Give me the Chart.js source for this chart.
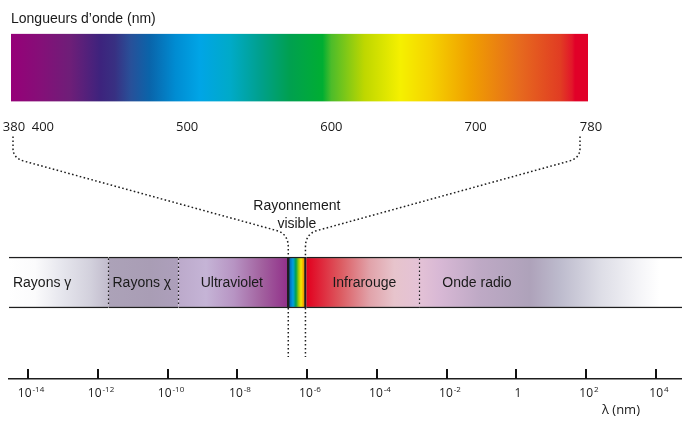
<!DOCTYPE html>
<html lang="fr">
<head>
<meta charset="utf-8">
<title>Spectre électromagnétique</title>
<script src="https://cdn.jsdelivr.net/npm/chart.js@4.4.1/dist/chart.umd.min.js"></script>
<style>
  html, body { margin: 0; padding: 0; background: #fff; }
  #wrap { position: relative; width: 682px; height: 423px; }
  #wrap > div { position: absolute; left: 0; top: 0; width: 682px; }
  #bandBox { height: 423px; }
  #visBox { height: 159px; }
</style>
</head>
<body>
<div id="wrap">
  <div id="bandBox"><canvas id="bandChart"></canvas></div>
  <div id="visBox"><canvas id="visChart"></canvas></div>
</div>
<script>
// visible part, in nm
const visibleRange = [380, 780];
const visibleTicks = [380, 400, 500, 600, 700, 780];

// bands on the lower axis, in powers of ten
const bandNames   = ['Rayons γ', 'Rayons χ', 'Ultraviolet', '', 'Infrarouge', 'Onde radio'];
const bandStart   = [-14.55, -11.7, -9.69, -6.57, -6.02, -2.79];
const bandEnd     = [-11.7, -9.69, -6.57, -6.02, -2.79, 4.75];
const bandLabelAt = [-13.6, -10.74, -8.16, null, -4.36, -1.13];
const visibleIndex = 3;
const powerTicks = [-14, -12, -10, -8, -6, -4, -2, 0, 2, 4];

const INK = '#1e1e1e';
const TEXT_FONT = '"Liberation Sans", Arial, sans-serif';
const NUM_FONT = '"Open Sans", sans-serif';

// colour stops
const spectrumColors = [
  [380, '#960078'], [400, '#850f78'], [421, '#6e1e78'], [442, '#3d237d'], [452, '#383082'],
  [463, '#285099'], [476, '#0a64aa'], [494, '#008cd2'], [511, '#00a5e6'], [532, '#00aac8'],
  [553, '#00a08c'], [573, '#00a050'], [596, '#00ae32'], [602, '#4cbc2a'], [625, '#bed700'],
  [650, '#f5f000'], [671, '#f5d200'], [698, '#f0a000'], [733, '#e6691e'], [761, '#e13c23'],
  [769, '#e2162a'], [771, '#e10028'], [780, '#e10028']
];
const bandColors = [
  [-14.55, '#ffffff'], [-13.8, '#fbfbfc'], [-13.07, '#e7e7ee'], [-12.2, '#d2d0dc'], [-11.72, '#c2bccd'],
  [-11.7, '#aca2b8'], [-10.5, '#a99db5'], [-9.71, '#ad9fbb'], [-9.69, '#bcaacb'], [-8.9, '#c5b4d6'],
  [-8.1, '#b794c3'], [-7.3, '#a2619f'], [-6.57, '#92318a'],
  [-6.02, '#e2001e'], [-5.05, '#dc5a60'], [-4.2, '#e1a3aa'], [-3.5, '#e7c4cc'], [-2.8, '#e4c2d6'],
  [-2.2, '#d8b8d5'], [-1.04, '#bea9c5'], [0.39, '#aea2ba'], [1.25, '#bdbbcd'], [2.4, '#dddde6'],
  [3.54, '#f5f5f8'], [4.1, '#ffffff'], [4.75, '#ffffff']
];
const rainbowColors = [
  [0, '#3c2a86'], [0.15, '#0070c0'], [0.3, '#00a0e0'], [0.45, '#00a050'],
  [0.6, '#a8cc00'], [0.72, '#f5e600'], [0.85, '#f0a000'], [1, '#e86000']
];

function gradient(chart, scale, stops, from, to) {
  const x0 = scale.getPixelForValue(from), x1 = scale.getPixelForValue(to);
  const g = chart.ctx.createLinearGradient(x0, 0, x1, 0);
  stops.forEach(([v, c]) => g.addColorStop(Math.min(1, Math.max(0, (v - from) / (to - from))), c));
  return g;
}

// keep the plot edges where the padding puts them, even if end labels overhang
const noOverhang = (s) => { s.paddingLeft = 0; s.paddingRight = 0; };

// top strip: visible wavelengths
const visChart = new Chart(document.getElementById('visChart'), {
  type: 'bar',
  data: {
    labels: ['visible'],
    datasets: [{
      data: [visibleRange],
      backgroundColor: (c) => {
        if (!c.chart.chartArea) return 'transparent';
        return gradient(c.chart, c.chart.scales.x, spectrumColors, visibleRange[0], visibleRange[1]);
      },
      borderWidth: 0,
      barPercentage: 1,
      categoryPercentage: 1
    }]
  },
  options: {
    indexAxis: 'y',
    responsive: true,
    maintainAspectRatio: false,
    animation: false,
    layout: { padding: { left: 11, right: 94, top: 0, bottom: 6 } },
    plugins: {
      legend: { display: false },
      tooltip: { enabled: false },
      title: {
        display: true,
        text: 'Longueurs d’onde (nm)',
        align: 'start',
        color: '#1a1a1a',
        font: { family: TEXT_FONT, size: 14, weight: 'normal' },
        padding: { top: 11, bottom: 6 }
      }
    },
    scales: {
      x: {
        type: 'linear',
        min: visibleRange[0],
        max: visibleRange[1],
        afterBuildTicks: (s) => { s.ticks = visibleTicks.map(v => ({ value: v })); },
        afterFit: noOverhang,
        grid: { display: false, drawTicks: false },
        border: { display: false },
        ticks: {
          padding: 18, labelOffset: 3, color: '#1a1a1a',
          font: { family: NUM_FONT, size: 13 }, maxRotation: 0, autoSkip: false
        }
      },
      y: { display: false }
    }
  }
});

function dotted(ctx) {
  ctx.setLineDash([1.6, 2.4]);
  ctx.lineWidth = 1.5;
  ctx.strokeStyle = INK;
}

const spectrumExtras = {
  id: 'spectrumExtras',
  afterDraw(chart) {
    const { ctx, chartArea } = chart;
    const xs = chart.scales.x;
    const bars = chart.getDatasetMeta(0).data;
    const vis = bars[visibleIndex];
    const top = vis.y - vis.height / 2, bottom = vis.y + vis.height / 2;
    ctx.save();

    // dotted separators inside the band
    dotted(ctx);
    ctx.lineWidth = 1.2;
    for (let i = 1; i < bandStart.length; i++) {
      if (i === visibleIndex || i - 1 === visibleIndex) continue;
      const x = Math.round(xs.getPixelForValue(bandStart[i])) + 0.5;
      ctx.beginPath();
      ctx.moveTo(x, top + 1.5);
      ctx.lineTo(x, bottom - 1.5);
      ctx.stroke();
    }

    // band names
    ctx.setLineDash([]);
    ctx.fillStyle = '#1a1a1a';
    ctx.font = '14px ' + TEXT_FONT;
    ctx.textAlign = 'center';
    ctx.textBaseline = 'middle';
    bandNames.forEach((name, i) => {
      if (name) ctx.fillText(name, xs.getPixelForValue(bandLabelAt[i]), vis.y + 0.5);
    });

    // connectors from the top strip to the visible band
    const vx = visChart.scales.x;
    const ya = visChart.chartArea.bottom + 35;
    const xl = xs.getPixelForValue(bandStart[visibleIndex]) + 1;
    const xr = xs.getPixelForValue(bandEnd[visibleIndex]) - 1;
    const ends = [
      [vx.getPixelForValue(visibleTicks[0]) + 2, xl, 1],
      [vx.getPixelForValue(visibleTicks[visibleTicks.length - 1]) - 8, xr, -1]
    ];
    dotted(ctx);
    ends.forEach(([xa, xb, dir]) => {
      ctx.beginPath();
      ctx.moveTo(xa, ya);
      ctx.lineTo(xa, ya + 12);
      ctx.quadraticCurveTo(xa, ya + 22, xa + 12 * dir, ya + 25);
      ctx.lineTo(xb - 10 * dir, top - 26);
      ctx.quadraticCurveTo(xb, top - 22, xb, top - 10);
      ctx.lineTo(xb, top);
      ctx.stroke();
      ctx.beginPath();
      ctx.moveTo(xb, bottom);
      ctx.lineTo(xb, bottom + 49);
      ctx.stroke();
    });

    ctx.setLineDash([]);
    ctx.fillStyle = '#1a1a1a';
    ctx.font = '14px ' + TEXT_FONT;
    ctx.textAlign = 'center';
    ctx.fillText('Rayonnement', (xl + xr) / 2, top - 51);
    ctx.fillText('visible', (xl + xr) / 2, top - 33);

    // tick marks above the axis line and power-of-ten labels
    const axisY = chartArea.bottom;
    ctx.strokeStyle = '#111';
    ctx.lineWidth = 2;
    ctx.textBaseline = 'alphabetic';
    xs.ticks.forEach(t => {
      const x = Math.round(xs.getPixelForValue(t.value));
      ctx.beginPath();
      ctx.moveTo(x, axisY - 10);
      ctx.lineTo(x, axisY);
      ctx.stroke();

      ctx.fillStyle = '#1a1a1a';
      if (t.value === 0) {
        ctx.font = '12px ' + NUM_FONT;
        ctx.textAlign = 'center';
        ctx.fillText('1', x + 2, axisY + 18);
        return;
      }
      const sup = t.value < 0 ? '-' + Math.abs(t.value) : String(t.value);
      ctx.font = '12px ' + NUM_FONT;
      const wb = ctx.measureText('10').width;
      ctx.font = '8px ' + NUM_FONT;
      const ws = ctx.measureText(sup).width + 1;
      const left = x + 3 - (wb + ws) / 2;
      ctx.textAlign = 'left';
      ctx.font = '12px ' + NUM_FONT;
      ctx.fillText('10', left, axisY + 18);
      ctx.font = '8px ' + NUM_FONT;
      ctx.fillText(sup, left + wb + 1, axisY + 13);
    });

    // unit label between the last two ticks
    const n = powerTicks.length;
    ctx.font = '13px ' + NUM_FONT;
    ctx.textAlign = 'center';
    ctx.textBaseline = 'middle';
    ctx.fillText('λ (nm)',
      (xs.getPixelForValue(powerTicks[n - 2]) + xs.getPixelForValue(powerTicks[n - 1])) / 2, axisY + 31);
    ctx.restore();
  }
};

// lower band: whole spectrum
const bandChart = new Chart(document.getElementById('bandChart'), {
  type: 'bar',
  data: {
    labels: ['spectre'],
    datasets: [{
      data: bandStart.map((s, i) => ({ x: [s, bandEnd[i]], y: 'spectre' })),
      backgroundColor: (c) => {
        const chart = c.chart;
        if (!chart.chartArea) return 'transparent';
        const xs = chart.scales.x;
        if (c.dataIndex === visibleIndex) {
          const a = bandStart[visibleIndex], b = bandEnd[visibleIndex];
          return gradient(chart, xs, rainbowColors.map(([f, col]) => [a + f * (b - a), col]), a, b);
        }
        return gradient(chart, xs, bandColors, xs.min, xs.max);
      },
      borderColor: INK,
      borderWidth: (c) => c.dataIndex === visibleIndex
        ? { top: 1.5, bottom: 1.5, left: 2.5, right: 2.5 }
        : { top: 1.5, bottom: 1.5, left: 0, right: 0 },
      borderSkipped: false,
      barThickness: 51
    }]
  },
  options: {
    indexAxis: 'y',
    responsive: true,
    maintainAspectRatio: false,
    animation: false,
    layout: { padding: { top: 186, left: 9, right: 0, bottom: 44 } },
    plugins: { legend: { display: false }, tooltip: { enabled: false } },
    scales: {
      x: {
        type: 'linear',
        min: bandStart[0],
        max: bandEnd[bandEnd.length - 1],
        afterBuildTicks: (s) => { s.ticks = powerTicks.map(v => ({ value: v })); },
        afterFit: noOverhang,
        grid: { display: false, drawTicks: false },
        border: { display: true, color: INK, width: 1.5 },
        ticks: { display: false }
      },
      y: { display: false }
    }
  },
  plugins: [spectrumExtras]
});
</script>
</body>
</html>
